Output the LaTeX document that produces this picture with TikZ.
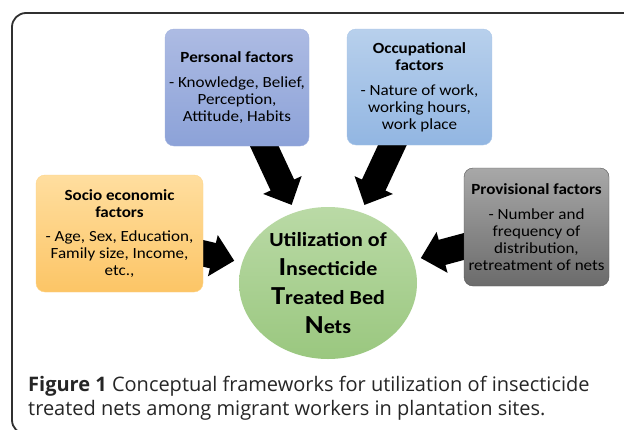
\documentclass[tikz,border=0pt]{standalone}
\usepackage{fontspec}
\setmainfont{Carlito}[FakeStretch=1.1]
\newfontfamily\capfont{Open Sans}
\usetikzlibrary{arrows.meta,backgrounds,shapes.geometric}
\definecolor{perT}{HTML}{ADBBE3}\definecolor{perB}{HTML}{8CA2D8}
\definecolor{occT}{HTML}{B8D0EC}\definecolor{occB}{HTML}{92B6E2}
\definecolor{socT}{HTML}{FFDE9F}\definecolor{socB}{HTML}{FCC566}
\definecolor{proT}{HTML}{A8A8A8}\definecolor{proB}{HTML}{6B6B6B}
\definecolor{ellT}{HTML}{BADAA6}\definecolor{ellB}{HTML}{9AC77F}
\tikzset{
  factor/.style={rounded corners=9pt, align=center, inner sep=0pt,
    font=\fontsize{15.5}{16.9}\selectfont},
  bigarrow/.style={line width=26pt, -{Triangle[length=22pt,width=41pt]}, shorten >=8pt},
  captext/.style={anchor=base west, inner sep=0pt, text=black!85, font=\capfont\fontsize{20}{24}\selectfont}
}
\begin{document}
\begin{tikzpicture}[x=1pt,y=-1pt]
\useasboundingbox (0,0) rectangle (624,429);
\clip (0,0) rectangle (624,429);
\draw[line width=1.8pt, draw={rgb,255:red,48;green,48;blue,48}, rounded corners=14pt] (12,13) rectangle (700,434);

\node[factor, minimum width=144pt, minimum height=117pt, top color=perT, bottom color=perB, draw=perT!60!perB]
  (personal) at (237,87.5) {\textbf{Personal factors}\\[8pt]- Knowledge, Belief,\\Perception,\\Attitude, Habits};
\node[factor, minimum width=145pt, minimum height=116pt, top color=occT, bottom color=occB, draw=occT!60!occB]
  (occup) at (419.5,87) {\textbf{Occupational}\\\textbf{factors}\\[8pt]- Nature of work,\\working hours,\\work place};
\node[factor, minimum width=167pt, minimum height=117pt, top color=socT, bottom color=socB, draw=socT!60!socB]
  (socio) at (119.5,233.5) {\textbf{Socio economic}\\\textbf{factors}\\[8pt]- Age, Sex, Education,\\Family size, Income,\\etc.,};
\node[factor, minimum width=145pt, minimum height=118pt, top color=proT, bottom color=proB, draw=proB!80!black]
  (prov) at (536.5,227) {\textbf{Provisional factors}\\[8pt]- Number and\\frequency of\\distribution,\\retreatment of nets};
\node[ellipse, minimum width=178pt, minimum height=152pt, inner sep=0pt, top color=ellT, bottom color=ellB,
  align=center, font=\bfseries\fontsize{20}{28.7}\selectfont]
  (ell) at (328,283) {Utilization of\\{\fontsize{26}{28.7}\selectfont I}nsecticide\\{\fontsize{26}{28.7}\selectfont T}reated Bed\\{\fontsize{26}{28.7}\selectfont N}ets};

\begin{scope}[on background layer]
\fill[white] (0,0) rectangle (624,429);
\draw[bigarrow] (personal.center) -- (ell);
\draw[bigarrow] (occup.center) -- (ell);
\draw[bigarrow] (socio.center) -- (ell);
\draw[bigarrow] (prov.center) -- (ell);
\end{scope}

\node[captext] (cap1) at (28,391) {\textbf{Figure 1} Conceptual frameworks for utilization of insecticide};
\node[captext] (cap2) at (28,415) {treated nets among migrant workers in plantation sites.};
\end{tikzpicture}
\end{document}
